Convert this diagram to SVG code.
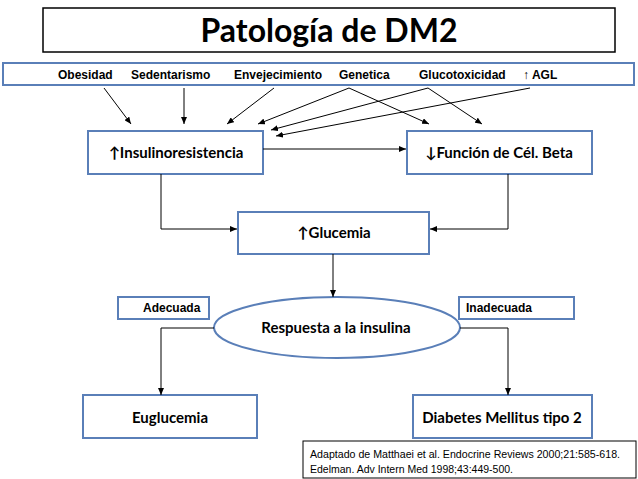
<svg xmlns="http://www.w3.org/2000/svg" width="638" height="479" viewBox="0 0 638 479">
<style>
.box{fill:#fff;stroke:#5a7fb8;stroke-width:2}
.t{font-family:Lato,"Open Sans","DejaVu Sans",sans-serif;font-weight:bold;fill:#000}
.f{font-family:"Liberation Sans",Arial,sans-serif;font-weight:bold;font-size:12px;fill:#000}
.c{fill:none;stroke:#000;stroke-width:1}
.r{font-family:"Liberation Sans",Arial,sans-serif;font-size:11px;fill:#000}
</style>
<defs>
<marker id="ah" markerWidth="7" markerHeight="6" refX="7" refY="3" orient="auto" markerUnits="userSpaceOnUse">
<path d="M0,0 L7,3 L0,6 z" fill="#000"/>
</marker>
</defs>
<rect width="638" height="479" fill="#fff"/>

<g id="title">
<rect x="43" y="8" width="572" height="44" fill="#fff" stroke="#000" stroke-width="1.5"/>
<text class="t" x="329" y="42" font-size="32" text-anchor="middle">Patología de DM2</text>
</g>

<g id="factores">
<rect class="box" x="3" y="63" width="631" height="22"/>
<text class="f" x="58" y="79">Obesidad</text>
<text class="f" x="131" y="79">Sedentarismo</text>
<text class="f" x="234" y="79">Envejecimiento</text>
<text class="f" x="339" y="79">Genetica</text>
<text class="f" x="419" y="79">Glucotoxicidad</text>
<text class="f" x="523" y="79">↑ AGL</text>
</g>

<g id="insulinoresistencia">
<rect class="box" x="88" y="131" width="175" height="43"/>
<text class="t" x="176" y="158" font-size="15" text-anchor="middle">↑Insulinoresistencia</text>
</g>

<g id="funcion-beta">
<rect class="box" x="407" y="131" width="185" height="43"/>
<text class="t" x="499" y="158" font-size="15" text-anchor="middle">↓Función de Cél. Beta</text>
</g>

<g id="glucemia">
<rect class="box" x="238" y="212" width="191" height="42"/>
<text class="t" x="334" y="238" font-size="15" text-anchor="middle">↑Glucemia</text>
</g>

<g id="respuesta">
<ellipse cx="337" cy="327.5" rx="123" ry="30.5" fill="#fff" stroke="#5a7fb8" stroke-width="2"/>
<text class="t" x="336" y="333" font-size="15" text-anchor="middle">Respuesta a la insulina</text>
</g>

<g id="adecuada">
<rect class="box" x="118" y="297" width="91" height="22"/>
<text class="f" x="143" y="312">Adecuada</text>
</g>

<g id="inadecuada">
<rect class="box" x="459" y="297" width="115" height="22"/>
<text class="f" x="466" y="312">Inadecuada</text>
</g>

<g id="euglucemia">
<rect class="box" x="83" y="395" width="174" height="43"/>
<text class="t" x="170" y="423" font-size="15" text-anchor="middle">Euglucemia</text>
</g>

<g id="diabetes">
<rect class="box" x="413" y="395" width="179" height="43"/>
<text class="t" x="502" y="423" font-size="15" text-anchor="middle">Diabetes Mellitus tipo 2</text>
</g>

<g id="referencia">
<rect x="303" y="441" width="333" height="37" fill="#fff" stroke="#000" stroke-width="1"/>
<text class="r" x="310" y="458" textLength="310" lengthAdjust="spacingAndGlyphs">Adaptado de Matthaei et al. Endocrine Reviews 2000;21:585-618.</text>
<text class="r" x="310" y="473" textLength="203" lengthAdjust="spacingAndGlyphs">Edelman. Adv Intern Med 1998;43:449-500.</text>
</g>

<g id="connectors">
<line class="c" x1="104" y1="88" x2="131" y2="124" marker-end="url(#ah)"/>
<line class="c" x1="184" y1="88" x2="184" y2="124" marker-end="url(#ah)"/>
<line class="c" x1="274" y1="88" x2="227" y2="124" marker-end="url(#ah)"/>
<line class="c" x1="349" y1="88" x2="258" y2="124" marker-end="url(#ah)"/>
<line class="c" x1="349" y1="88" x2="429" y2="124" marker-end="url(#ah)"/>
<line class="c" x1="428" y1="88" x2="271" y2="130" marker-end="url(#ah)"/>
<line class="c" x1="428" y1="88" x2="482" y2="124" marker-end="url(#ah)"/>
<line class="c" x1="530" y1="88" x2="276" y2="136" marker-end="url(#ah)"/>
<line class="c" x1="263" y1="149" x2="406" y2="149" marker-end="url(#ah)"/>
<polyline class="c" points="161,174 161,229 237,229" marker-end="url(#ah)"/>
<polyline class="c" points="508,174 508,229 430,229" marker-end="url(#ah)"/>
<line class="c" x1="333" y1="254" x2="333" y2="297" marker-end="url(#ah)"/>
<polyline class="c" points="214,328 161,328 161,395" marker-end="url(#ah)"/>
<polyline class="c" points="460,328 508,328 508,395" marker-end="url(#ah)"/>
</g>
</svg>
